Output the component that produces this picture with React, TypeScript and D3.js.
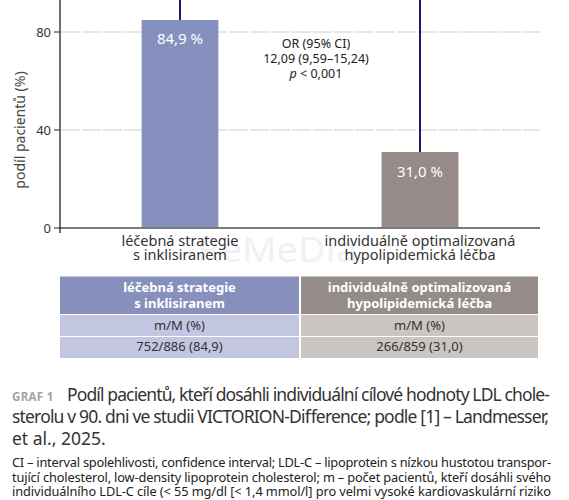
import * as d3 from "d3";

const categories = ["inclisiran", "standard"];
const categoryLines = [
  ["léčebná strategie", "s inklisiranem"],
  ["individuálně optimalizovaná", "hypolipidemická léčba"],
];
const values = [84.9, 31.0];
const barLabels = ["84,9 %", "31,0 %"];
const yTicks = [0, 40, 80];
const barColors = ["#8690bf", "#968b88"];
const headerColors = ["#8790bd", "#958b88"];
const rowColors = ["#c3c6e1", "#cbc5c2"];
const tableRowLabels = ["m/M (%)", "m/M (%)"];
const tableCounts = ["752/886 (84,9)", "266/859 (31,0)"];
const statLines = ["OR (95% CI)", "12,09 (9,59–15,24)"];

const captionLines = [
  "Podíl pacientů, kteří dosáhli individuální cílové hodnoty LDL chole-",
  "sterolu v 90. dni ve studii VICTORION-Difference; podle [1] – Landmesser,",
  "et al., 2025.",
];
const noteLines = [
  "CI – interval spolehlivosti, confidence interval; LDL-C – lipoprotein s nízkou hustotou transpor-",
  "tující cholesterol, low-density lipoprotein cholesterol; m – počet pacientů, kteří dosáhli svého",
  "individuálního LDL-C cíle (< 55 mg/dl [< 1,4 mmol/l] pro velmi vysoké kardiovaskulární riziko",
];

const W = 569;
const H = 500;
const font = "'Noto Sans', sans-serif";

export default function App() {
  const x = d3.scaleBand().domain(categories).range([60, 540]).paddingInner(0.68).paddingOuter(0.34);
  const y = d3.scaleLinear().domain([0, 80]).range([228, 32]);
  const bw = x.bandwidth();
  const cx = (c: string) => (x(c) || 0) + bw / 2;

  return (
    <svg width={W} height={H} style={{ position: "absolute", left: 0, top: 0 }} fontFamily={font}>
      <rect width={W} height={H} fill="#fff" />
      {/* watermark */}
      <text x={197} y={262} fontSize={34} fill="#f1f1f1" textLength={160} lengthAdjust="spacingAndGlyphs">ReMeDia</text>

      {/* grid */}
      {yTicks.filter((t) => t > 0).map((t) => (
        <line key={t} x1={61} x2={540} y1={y(t)} y2={y(t)} stroke="#cfcfcf" strokeWidth={1} strokeDasharray="19 2" />
      ))}

      {/* bars */}
      {categories.map((c, i) => (
        <g key={c}>
          <line x1={cx(c)} x2={cx(c)} y1={y(100)} y2={y(values[i])} stroke="#1e1b6c" strokeWidth={2} />
          <rect x={x(c)} y={y(values[i])} width={bw} height={y(0) - y(values[i])} fill={barColors[i]} />
          <text x={cx(c)} y={y(values[i]) + (i === 0 ? 24 : 25)} textAnchor="middle" fontSize={15} fill="#fff">{barLabels[i]}</text>
          {categoryLines[i].map((l, j) => (
            <text key={j} x={cx(c)} y={246 + j * 14} textAnchor="middle" fontSize={14.5} fill="#333">{l}</text>
          ))}
        </g>
      ))}

      {/* axes */}
      <line x1={60} x2={540} y1={y(0)} y2={y(0)} stroke="#7a7a7a" strokeWidth={2} />
      <line x1={60} x2={60} y1={0} y2={233} stroke="#222" strokeWidth={1.3} />
      {yTicks.map((t) => (
        <g key={t}>
          <line x1={54} x2={60} y1={y(t)} y2={y(t)} stroke="#222" strokeWidth={1} />
          <text x={51} y={y(t)} dy="0.35em" textAnchor="end" fontSize={13} fill="#333">{t}</text>
        </g>
      ))}
      <text transform="translate(25,130) rotate(-90)" textAnchor="middle" fontSize={14} fill="#444">podíl pacientů (%)</text>

      {/* statistics */}
      {statLines.map((l, i) => (
        <text key={i} x={316} y={48 + i * 15} textAnchor="middle" fontSize={12.5} fill="#222">{l}</text>
      ))}
      <text x={316} y={78} textAnchor="middle" fontSize={12.5} fill="#222">
        <tspan fontStyle="italic">p</tspan> &lt; 0,001
      </text>

      {/* table */}
      {categories.map((c, i) => {
        const x0 = i === 0 ? 60 : 301;
        const x1 = i === 0 ? 299 : 538;
        const mid = (x0 + x1) / 2;
        return (
          <g key={c}>
            <rect x={x0} y={276.5} width={x1 - x0} height={37.5} fill={headerColors[i]} />
            <rect x={x0} y={315} width={x1 - x0} height={21} fill={rowColors[i]} />
            <rect x={x0} y={337} width={x1 - x0} height={21} fill={rowColors[i]} />
            {categoryLines[i].map((l, j) => (
              <text key={j} x={mid} y={292 + j * 15.5} textAnchor="middle" fontSize={13} fontWeight="bold" fill="#fff">{l}</text>
            ))}
            <text x={mid} y={330} textAnchor="middle" fontSize={13} fill="#333">{tableRowLabels[i]}</text>
            <text x={mid} y={351} textAnchor="middle" fontSize={13} fill="#333">{tableCounts[i]}</text>
          </g>
        );
      })}

      {/* caption */}
      <text x={12} y={401} fontSize={11.5} fontWeight="bold" fill="#a3a3a3" letterSpacing={0.3}>GRAF 1</text>
      <text x={67} y={401} fontSize={17.5} fill="#333" textLength={483} lengthAdjust="spacing">{captionLines[0]}</text>
      <text x={12} y={423} fontSize={17.5} fill="#333" textLength={537} lengthAdjust="spacing">{captionLines[1]}</text>
      <text x={12} y={445} fontSize={17.5} fill="#333">{captionLines[2]}</text>
      {noteLines.map((l, i) => (
        <text key={i} x={12} y={467 + i * 14.5} fontSize={12.8} fill="#222" textLength={539} lengthAdjust="spacing">{l}</text>
      ))}
    </svg>
  );
}
